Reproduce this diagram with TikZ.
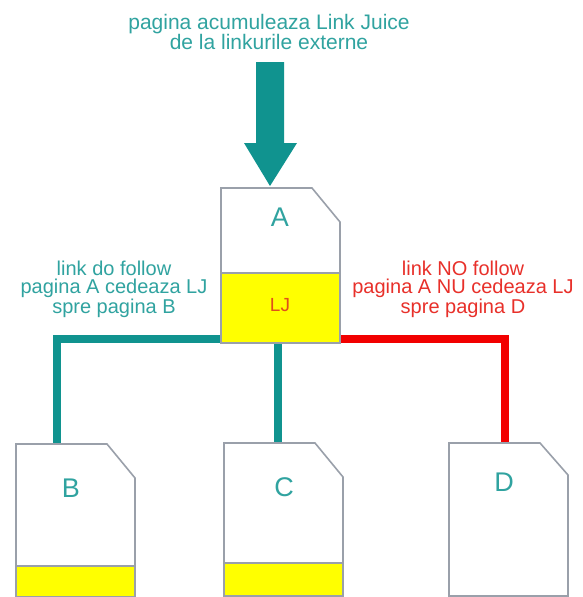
\documentclass[tikz,border=0pt]{standalone}
\usepackage{fontspec}
\setmainfont{Liberation Sans}
\usetikzlibrary{calc}
\definecolor{tealline}{HTML}{10938F}
\definecolor{tealtext}{HTML}{30A3A0}
\definecolor{redline}{HTML}{F20000}
\definecolor{redtext}{HTML}{E8302A}
\definecolor{ljtext}{HTML}{E0501A}
\definecolor{pagegray}{HTML}{9AA0AA}
\definecolor{juice}{HTML}{FFFF00}
\newcommand\drawpage[3]{% name, cut x, cut y
  \draw[pageline] (#1.south west) -- (#1.north west) -- ($(#1.north east)+(-#2,0)$) -- ($(#1.north east)+(0,#3)$) -- (#1.south east) -- cycle;}
\newcommand\fillpage[2]{% name, yellow height
  \fill[juice] (#1.south west) rectangle ($(#1.south east)+(0,-#2)$);
  \draw[pageline] ($(#1.south west)+(0,-#2)$) -- ($(#1.south east)+(0,-#2)$);}
\begin{document}
\begin{tikzpicture}[x=1pt,y=-1pt,
  pagebox/.style={minimum width=119pt, minimum height=155pt, anchor=north west, inner sep=0pt, outer sep=0pt},
  lowpage/.style={pagebox, minimum height=153pt},
  pageline/.style={draw=pagegray, line width=1.6pt, line join=miter},
  bigletter/.style={text=tealtext, font=\fontsize{27}{27}\selectfont, inner sep=0pt},
  note/.style={align=center, font=\fontsize{20}{18.5}\selectfont, inner sep=0pt},
  topnote/.style={align=center, font=\fontsize{21}{19.5}\selectfont, inner sep=0pt},
  tealconn/.style={draw=tealline, line width=8.5pt, line join=miter},
  redconn/.style={draw=redline, line width=8.5pt, line join=miter}]
\clip (0,0) rectangle (582,597);
\useasboundingbox (0,0) rectangle (582,597);
\fill[white] (0,0) rectangle (582,597);

% pages
\node[pagebox] (A) at (221,188) {};
\node[lowpage] (B) at (16,444) {};
\node[lowpage] (C) at (224,443) {};
\node[lowpage] (D) at (449,443) {};

% connectors (under pages)
\coordinate (Aleft) at ($(A.south west)+(0,-4)$);
\coordinate (Aright) at ($(A.south east)+(0,-4)$);
\coordinate (Btop) at (57,444);
\coordinate (Amid) at (278,343);
\coordinate (Ctop) at (278,443);
\coordinate (Dtop) at (505,443);
\draw[tealconn] (Aleft) -| (Btop);
\draw[tealconn] (Amid) -- (Ctop);
\draw[redconn] (Aright) -| (Dtop);

% page bodies
\fill[white] (A.south west) -- (A.north west) -- ($(A.north east)+(-28,0)$) -- ($(A.north east)+(0,34)$) -- (A.south east) -- cycle;
\fillpage{A}{70}
\drawpage{A}{28}{34}
\fillpage{B}{31}
\drawpage{B}{28}{34}
\fillpage{C}{33}
\drawpage{C}{28}{34}
\drawpage{D}{28}{32}

\node[bigletter] (Alab) at (280,217) {A};
\node[bigletter] (Blab) at (71,488) {B};
\node[bigletter] (Clab) at (284,487) {C};
\node[bigletter] (Dlab) at (504,482) {D};
\node[text=ljtext, font=\fontsize{19}{19}\selectfont, inner sep=0pt] (LJ) at (280,305) {LJ};

% big arrow into A
\coordinate (tip) at (270,186);
\node[topnote, text=tealtext] (top) at (269,32) {pagina acumuleaza Link Juice\\de la linkurile externe};
\fill[tealline] (256,62) -- (284,62) -- (284,143) -- (297,143) -- (tip) -- (244,143) -- (256,143) -- cycle;

% labels
\node[note, text=tealtext] (dof) at (114,289) {link do follow\\pagina A cedeaza LJ\\spre pagina B};
\node[note, text=redtext] (nof) at (463,289) {link NO follow\\pagina A NU cedeaza LJ\\spre pagina D};
\end{tikzpicture}
\end{document}
